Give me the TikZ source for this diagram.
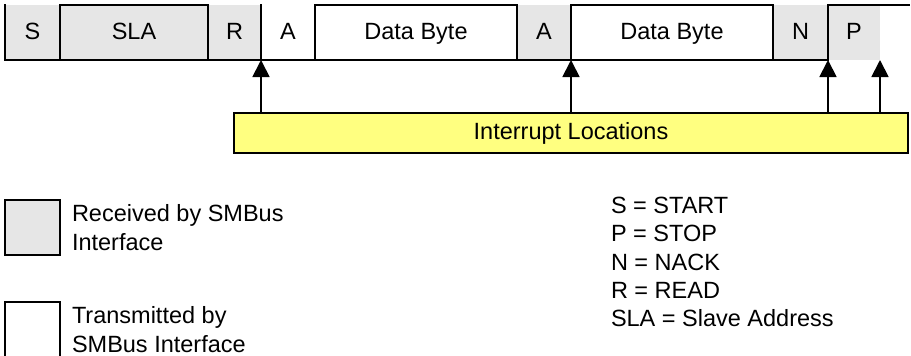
\documentclass[tikz,border=0pt]{standalone}
\usepackage{fontspec}
\setmainfont{Liberation Sans}
\usetikzlibrary{arrows.meta,positioning}
\definecolor{RxFill}{HTML}{E6E6E6}
\definecolor{IrqFill}{HTML}{FFFF80}

\begin{document}
\begin{tikzpicture}[x=1pt,y=-1pt,node distance=0pt and 0pt]
    \tikzset{field/.style={inner sep=0pt,outer sep=0pt,minimum height=55pt,
      text height=17pt,text depth=4pt,font=\fontsize{23.5}{28.3}\selectfont},
      rx/.style={field,fill=RxFill},
      tx/.style={field},
      wave/.style={line width=1.8pt,line cap=rect},
      irqarrow/.style={line width=1.8pt,-{Triangle[length=17pt,width=17pt]}},
      keybox/.style={draw,line width=1.8pt,minimum size=55pt,inner sep=0pt,outer sep=0pt},
      legendtext/.style={font=\fontsize{23.5}{28.3}\selectfont,align=left,inner sep=0pt,outer sep=0pt}}
    \useasboundingbox (0,0) rectangle (911,356);
    % frame fields
    \node[rx,minimum width=55pt] (s) at (32.5,32.5) {S};
    \node[rx,right=of s,minimum width=148pt] (sla) {SLA};
    \node[rx,right=of sla,minimum width=53pt] (r) {R};
    \node[tx,right=of r,minimum width=54pt] (a1) {A};
    \node[tx,right=of a1,minimum width=202pt] (db1) {Data Byte};
    \node[rx,right=of db1,minimum width=54pt] (a2) {A};
    \node[tx,right=of a2,minimum width=202pt] (db2) {Data Byte};
    \node[rx,right=of db2,minimum width=55pt] (n) {N};
    \node[rx,right=of n,minimum width=52pt] (p) {P};
    \coordinate (busend) at (909,5);
    % bus lines
    \draw[wave] (s.north west) -- (s.south west) -- (p.south west);
    \draw[wave] (sla.south west) |- (sla.north east) -- (sla.south east);
    \draw[wave] (r.north east) -- (r.south east);
    \draw[wave] (db1.south west) |- (db1.north east) -- (db1.south east);
    \draw[wave] (db2.south west) |- (db2.north east) -- (db2.south east);
    \draw[wave] (p.south west) |- (busend);
    % interrupts
    \node[draw,line width=1.8pt,fill=IrqFill,minimum width=674pt,minimum height=40pt,
      inner sep=0pt,font=\fontsize{23.5}{28.3}\selectfont] (irq) at (571,133) {Interrupt Locations};
    \draw[irqarrow] (irq.north -| r.south east) -- (r.south east);
    \draw[irqarrow] (irq.north -| db2.south west) -- (db2.south west);
    \draw[irqarrow] (irq.north -| p.south west) -- (p.south west);
    \draw[irqarrow] (irq.north -| p.south east) -- (p.south east);
    % legend
    \node[keybox,fill=RxFill] (rxkey) at (32.5,227.5) {};
    \node[legendtext,right=12pt of rxkey] (rxtext) {Received by SMBus\\Interface};
    \node[keybox] (txkey) at (32.5,329.5) {};
    \node[legendtext,right=12pt of txkey] (txtext) {Transmitted by\\SMBus Interface};
    \node[legendtext,anchor=north west] (abbr) at (611,197)
      {S = START\\P = STOP\\N = NACK\\R = READ\\SLA = Slave Address};
  \end{tikzpicture}
\end{document}
